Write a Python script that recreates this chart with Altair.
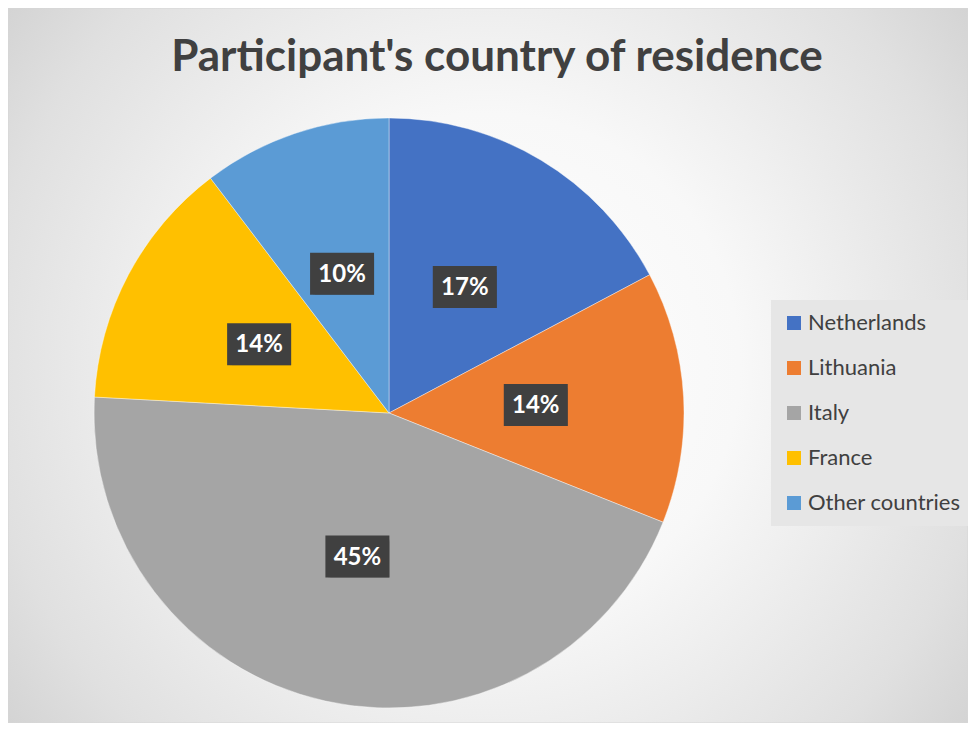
import altair as alt
import pandas as pd

# ---- data ----
countries = ["Netherlands", "Lithuania", "Italy", "France", "Other countries"]
counts = [5, 4, 13, 4, 3]
order_idx = [0, 1, 2, 3, 4]
colors = ["#4472C4", "#ED7D31", "#A5A5A5", "#FFC000", "#5B9BD5"]
title_text = "Participant's country of residence"

df = pd.DataFrame({"country": countries, "count": counts, "idx": order_idx})

W, H = 960, 715
CX, CY, R = 381, 405, 295
LR = 147

grad = alt.RadialGradient(
    gradient="radial",
    stops=[
        alt.GradientStop(offset=0.0, color="#ffffff"),
        alt.GradientStop(offset=0.35, color="#f8f8f8"),
        alt.GradientStop(offset=0.7, color="#e0e0e0"),
        alt.GradientStop(offset=1.0, color="#c4c4c4"),
    ],
    x1=0.5, y1=0.5, r1=0,
    x2=0.5, y2=0.5, r2=0.75,
)

bg = alt.Chart(alt.Data(values=[{}])).mark_rect(
    fill=grad, stroke="#d6d6d6", strokeWidth=1
).encode(x=alt.value(0), x2=alt.value(W), y=alt.value(0), y2=alt.value(H))

base = alt.Chart(df)

pie = base.mark_arc(radius=R, stroke="white", strokeWidth=0.4).encode(
    x=alt.value(CX),
    y=alt.value(CY),
    theta=alt.Theta("count:Q", stack=True),
    color=alt.Color(
        "country:N",
        sort=countries,
        scale=alt.Scale(domain=countries, range=colors),
        legend=alt.Legend(
            orient="none",
            legendX=763,
            legendY=292,
            title=None,
            fillColor="#e6e6e6",
            padding=12,
            symbolType="square",
            symbolSize=196,
            symbolStrokeWidth=0,
            labelFont="Lato",
            labelFontSize=22,
            labelColor="#404040",
            labelOffset=3,
            rowPadding=23,
        ),
    ),
    order=alt.Order("idx:Q"),
)

lab = base.transform_joinaggregate(total="sum(count)").transform_window(
    cum="sum(count)", sort=[alt.SortField("idx")], frame=[None, 0]
).transform_calculate(
    mid="(datum.cum - datum.count/2)/datum.total*2*PI",
).transform_calculate(
    px=f"{CX} + {LR}*sin(datum.mid)",
    py=f"{CY} - {LR}*cos(datum.mid)",
    pct="format(datum.count/datum.total, '.0%')",
).transform_calculate(
    bx1="datum.px - 32", bx2="datum.px + 32",
    by1="datum.py - 21", by2="datum.py + 21",
)

rect_enc = dict(
    x=alt.X("bx1:Q", scale=None, axis=None),
    x2=alt.X2("bx2:Q"),
    y=alt.Y("by1:Q", scale=None, axis=None),
    y2=alt.Y2("by2:Q"),
)

shadow1 = lab.mark_rect(color="#000000", opacity=0.18, xOffset=5, yOffset=6).encode(**rect_enc)
shadow2 = lab.mark_rect(color="#000000", opacity=0.18, xOffset=3, yOffset=4).encode(**rect_enc)
box = lab.mark_rect(color="#404040").encode(**rect_enc)
txt = lab.mark_text(
    font="Lato", fontSize=24, fontWeight="bold", color="white",
    align="center", baseline="middle", dy=1,
).encode(
    x=alt.X("px:Q", scale=None, axis=None),
    y=alt.Y("py:Q", scale=None, axis=None),
    text="pct:N",
)

chart = alt.layer(bg, pie, shadow1, shadow2, box, txt).properties(
    width=W,
    height=H,
    autosize=alt.AutoSizeParams(type="none"),
    padding=0,
    title=alt.TitleParams(
        text=title_text,
        font="Lato",
        fontSize=44,
        fontWeight="bold",
        color="#404040",
        anchor="middle",
        frame="group",
        baseline="alphabetic",
        offset=0,
        dy=107,
        dx=9,
    ),
).configure_view(stroke=None).configure(background="white")

chart.save("out.html", embed_options={"renderer": "svg", "actions": False})
